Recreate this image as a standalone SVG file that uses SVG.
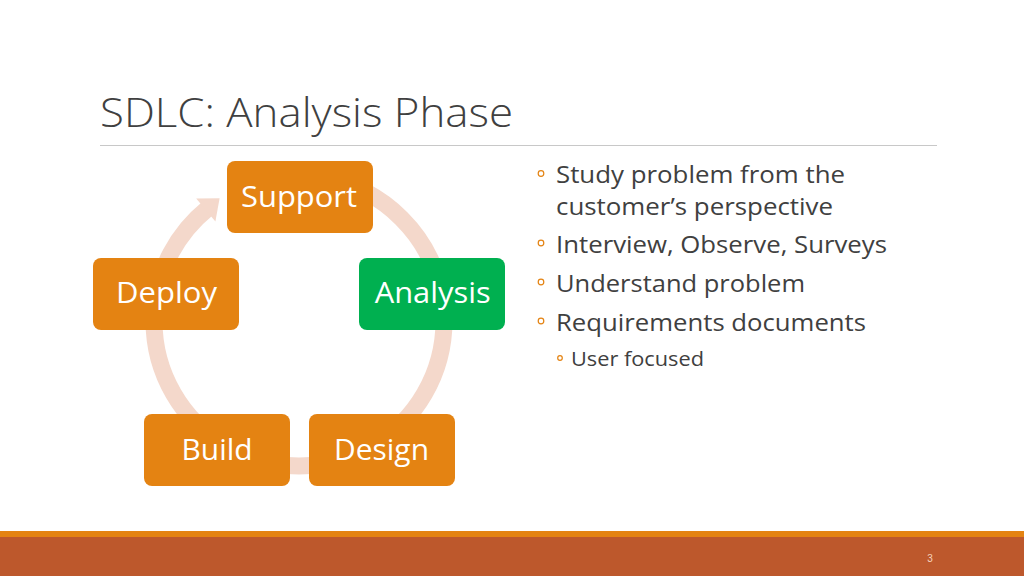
<svg xmlns="http://www.w3.org/2000/svg" width="1024" height="576" viewBox="0 0 1024 576">
<style>
.box{fill:#E48312}
.lbl{font-family:"Open Sans","Liberation Sans",sans-serif;font-size:29px;fill:#FFFFFF;text-anchor:middle}
.ring{fill:none;stroke:#F4D8CB;stroke-width:17}
.body{font-family:"Open Sans","Liberation Sans",sans-serif;font-size:24px;fill:#404040}
.sub{font-family:"Open Sans","Liberation Sans",sans-serif;font-size:20px;fill:#404040}
.bul{fill:none;stroke:#E48312;stroke-width:1.2}
</style>
<rect width="1024" height="576" fill="#FFFFFF"/>
<text x="100" y="127" font-family="'Open Sans','Liberation Sans',sans-serif" font-weight="300" font-size="41" fill="#404040" textLength="413" lengthAdjust="spacingAndGlyphs">SDLC: Analysis Phase</text>
<line x1="100" y1="145.5" x2="937" y2="145.5" stroke="#C8C8C8" stroke-width="1"/>
<g id="connectors">
<path class="ring" d="M324.2,178.2 A145,145 0 0 1 441.8,295.8"/>
<path class="ring" d="M444,321 A145,145 0 0 1 371.5,446.6"/>
<path class="ring" d="M324.2,463.8 A145,145 0 0 1 273.8,463.8"/>
<path class="ring" d="M226.5,446.6 A145,145 0 0 1 154,321"/>
<path class="ring" d="M154.5,308.4 A145,145 0 0 1 207.8,208.3"/>
<polygon points="196.2,198.4 219.6,198.3 215.4,221.4" fill="#F4D8CB"/>
</g>
<g id="support">
<rect class="box" x="227" y="161" width="146" height="72" rx="8"/>
<text class="lbl" x="299" y="207" textLength="116" lengthAdjust="spacingAndGlyphs">Support</text>
</g>
<g id="analysis">
<rect x="359" y="258" width="146" height="72" rx="8" fill="#00B050"/>
<text class="lbl" x="432.7" y="303" textLength="116" lengthAdjust="spacingAndGlyphs">Analysis</text>
</g>
<g id="design">
<rect class="box" x="309" y="414" width="146" height="72" rx="8"/>
<text class="lbl" x="381.5" y="460" textLength="95" lengthAdjust="spacingAndGlyphs">Design</text>
</g>
<g id="build">
<rect class="box" x="144" y="414" width="146" height="72" rx="8"/>
<text class="lbl" x="217" y="460" textLength="71" lengthAdjust="spacingAndGlyphs">Build</text>
</g>
<g id="deploy">
<rect class="box" x="93" y="258" width="146" height="72" rx="8"/>
<text class="lbl" x="166.5" y="303" textLength="101" lengthAdjust="spacingAndGlyphs">Deploy</text>
</g>
<g id="bullets">
<circle class="bul" cx="541" cy="173.5" r="2.8"/>
<text class="body" x="556" y="183" textLength="289" lengthAdjust="spacingAndGlyphs">Study problem from the</text>
<text class="body" x="556" y="215" textLength="277" lengthAdjust="spacingAndGlyphs">customer’s perspective</text>
<circle class="bul" cx="541" cy="243" r="2.8"/>
<text class="body" x="556" y="253" textLength="331" lengthAdjust="spacingAndGlyphs">Interview, Observe, Surveys</text>
<circle class="bul" cx="541" cy="282" r="2.8"/>
<text class="body" x="556" y="292" textLength="249" lengthAdjust="spacingAndGlyphs">Understand problem</text>
<circle class="bul" cx="541" cy="321" r="2.8"/>
<text class="body" x="556" y="331" textLength="310" lengthAdjust="spacingAndGlyphs">Requirements documents</text>
<circle class="bul" cx="560" cy="358" r="2.3"/>
<text class="sub" x="571" y="366" textLength="133" lengthAdjust="spacingAndGlyphs">User focused</text>
</g>
<rect x="0" y="531" width="1024" height="6" fill="#E48312"/>
<rect x="0" y="537" width="1024" height="39" fill="#BD582C"/>
<text x="930" y="562" font-family="'Liberation Sans',sans-serif" font-size="10" fill="#F5D3BD" text-anchor="middle">3</text>
</svg>
